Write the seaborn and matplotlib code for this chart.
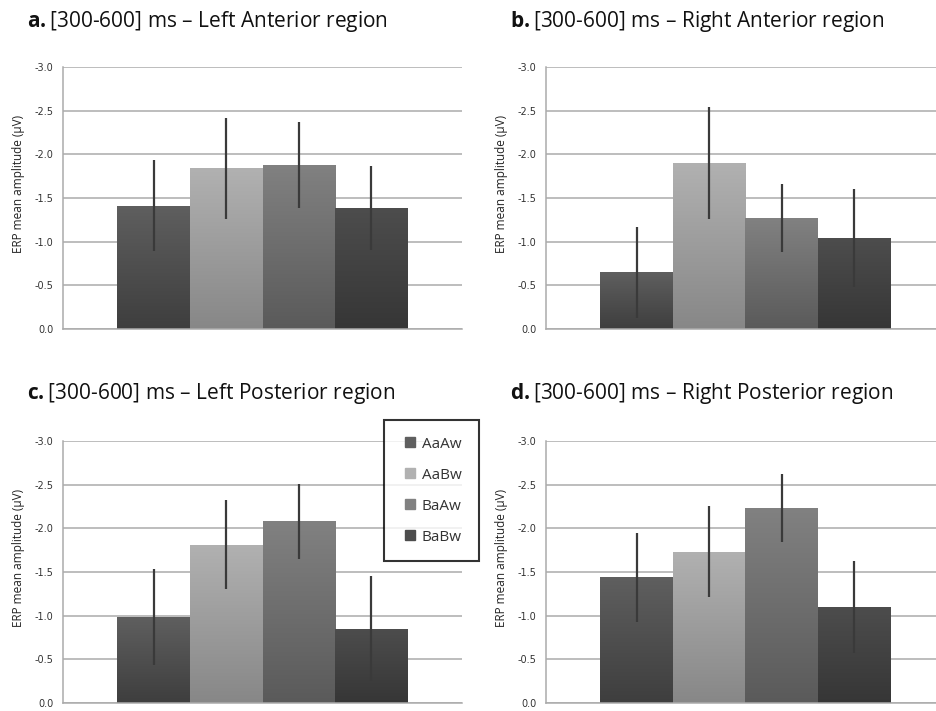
import numpy as np
import pandas as pd
import matplotlib
matplotlib.use("Agg")
import matplotlib.pyplot as plt
from matplotlib.colors import LinearSegmentedColormap
from matplotlib.lines import Line2D
import seaborn as sns

# data (ERP mean amplitude, negative up)
conditions = ["AaAw", "AaBw", "BaAw", "BaBw"]
panel_letters = ["a.", "b.", "c.", "d."]
region_names = ["Left Anterior", "Right Anterior", "Left Posterior", "Right Posterior"]

left_anterior = [-1.41, -1.84, -1.88, -1.39]
left_anterior_err = [0.52, 0.58, 0.49, 0.48]
right_anterior = [-0.65, -1.90, -1.27, -1.04]
right_anterior_err = [0.52, 0.64, 0.39, 0.56]
left_posterior = [-0.98, -1.81, -2.08, -0.85]
left_posterior_err = [0.55, 0.51, 0.43, 0.60]
right_posterior = [-1.44, -1.73, -2.23, -1.10]
right_posterior_err = [0.51, 0.52, 0.39, 0.53]

y_ticks = [0.0, -0.5, -1.0, -1.5, -2.0, -2.5, -3.0]

sns.set_style("white")
plt.rcParams["axes.unicode_minus"] = False
plt.rcParams["mathtext.fontset"] = "custom"
plt.rcParams["mathtext.bf"] = "Open Sans:bold"

# gradient shades (top, bottom) per condition
shades = [("#5f5f5f", "#3e3e3e"), ("#b1b1b1", "#878787"),
          ("#818181", "#5a5a5a"), ("#4d4d4d", "#363636")]
flat = [s[0] for s in shades]

panels = [(left_anterior, left_anterior_err), (right_anterior, right_anterior_err),
          (left_posterior, left_posterior_err), (right_posterior, right_posterior_err)]

fig = plt.figure(figsize=(9.36, 7.11), dpi=100)
lefts = [0.0673, 0.5833, 0.0673, 0.5833]
bottoms = [0.5373, 0.5373, 0.0113, 0.0113]
title_pos = [(27, 22), (510, 22), (27, 393), (510, 393)]

for i, (vals, errs) in enumerate(panels):
    ax = fig.add_axes([lefts[i], bottoms[i], 0.4263, 0.3685])
    df = pd.DataFrame({"cond": conditions, "amp": vals})
    sns.barplot(data=df, x="cond", y="amp", hue="cond", palette=flat, width=1,
                dodge=False, legend=False, errorbar=None, ax=ax, linewidth=0)
    # vertical gradient on each bar
    for patch in list(ax.patches):
        k = int(round(patch.get_x() + patch.get_width() / 2))
        top, bottom = shades[k]
        cmap = LinearSegmentedColormap.from_list("g%d" % k, [bottom, top])
        grad = np.linspace(0, 1, 256).reshape(-1, 1)
        x0, y0 = patch.get_x(), patch.get_y()
        im = ax.imshow(grad, cmap=cmap, origin="lower", aspect="auto",
                       extent=[x0, x0 + patch.get_width(), y0, y0 + patch.get_height()],
                       zorder=patch.get_zorder() + 0.1)
        im.set_clip_path(patch)
    ax.errorbar(x=range(len(conditions)), y=vals, yerr=errs, fmt="none",
                ecolor="#3a3a3a", elinewidth=1.6, capsize=0, zorder=6)
    ax.set_xlim(-1.25, 4.25)
    ax.set_ylim(0, -3.0)
    ax.set_yticks(y_ticks)
    ax.set_yticklabels(["%.1f" % t for t in y_ticks], fontsize=7, color="#333333",
                       family="DejaVu Sans")
    ax.set_xticks([])
    ax.set_xlabel("")
    ax.set_ylabel("ERP mean amplitude (µV)", fontsize=8.5, family="Open Sans",
                  color="#222222")
    ax.yaxis.set_label_coords(-0.095, 0.555)
    ax.tick_params(axis="y", length=0, pad=7)
    ax.yaxis.grid(True, color="#ababab", lw=1.1)
    ax.set_axisbelow(True)
    for s in ["top", "right"]:
        ax.spines[s].set_visible(False)
    for s in ["left", "bottom"]:
        ax.spines[s].set_color("#ababab")
        ax.spines[s].set_linewidth(1.1)
    tx, ty = title_pos[i]
    fig.text(tx / 936, 1 - ty / 711,
             r"$\bf{%s}$[300-600] ms – %s region" % (panel_letters[i][0] + ".", region_names[i]),
             fontsize=15, family="Open Sans", va="center", ha="left", color="#111111")

handles = [Line2D([], [], marker="s", ls="none", markersize=7.5, color=c) for c in flat]
leg = fig.legend(handles, conditions, loc="upper left",
                 bbox_to_anchor=(384 / 936, 1 - 420 / 711), fontsize=11,
                 frameon=True, fancybox=False, edgecolor="black",
                 handlelength=1.3, handletextpad=0.1,
                 labelspacing=1.05, borderpad=1.08, borderaxespad=0)
leg.get_frame().set_linewidth(1.5)
for t in leg.get_texts():
    t.set_family("Open Sans")
    t.set_color("#333333")

fig.savefig("out.png", dpi=100)
